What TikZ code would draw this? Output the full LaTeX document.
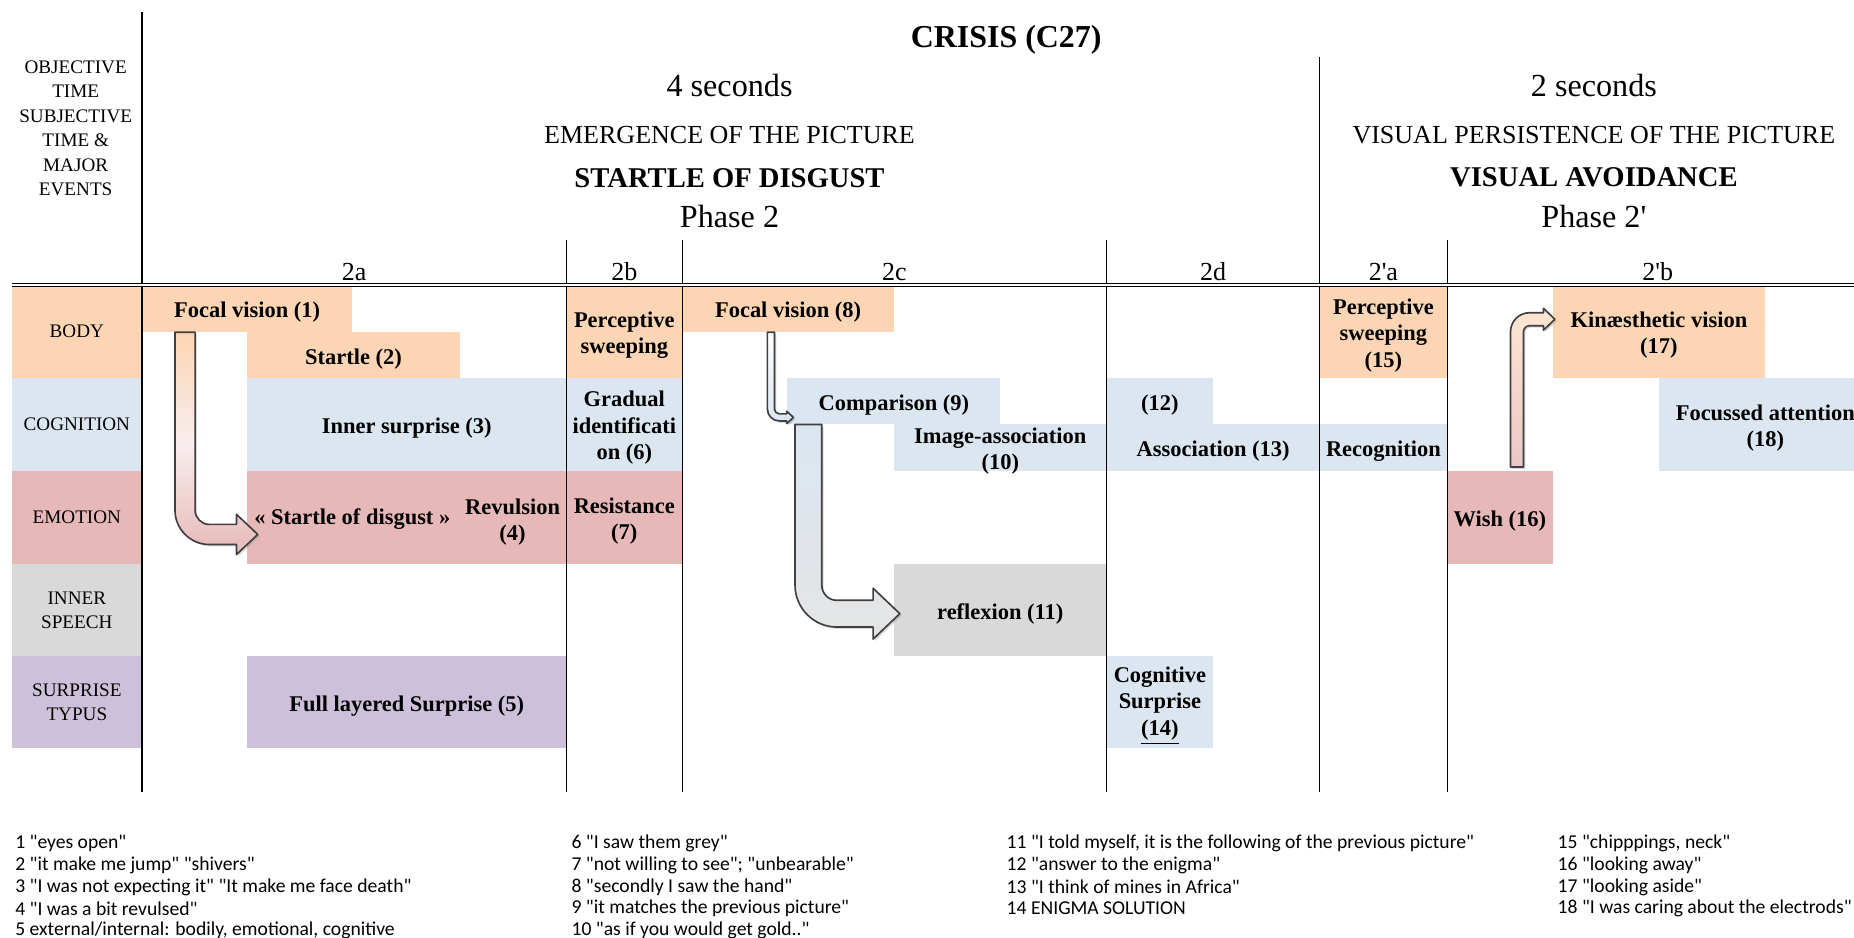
\documentclass[tikz,border=0pt]{standalone}
\usepackage{fontspec}
\defaultfontfeatures[\rmfamily]{}
\setmainfont{Liberation Serif}
\newfontfamily\legendfont{Carlito}
\usetikzlibrary{calc,shadows}

\definecolor{peach}{HTML}{FCD5B4}
\definecolor{cogblue}{HTML}{DCE6F1}
\definecolor{emopink}{HTML}{E6B9B8}
\definecolor{speechgrey}{HTML}{D9D9D9}
\definecolor{typuslilac}{HTML}{CCC0DA}
\definecolor{arrowline}{HTML}{404040}

\tikzset{
  cellwh/.style 2 args={minimum width=0.5pt*#1,minimum height=0.5pt*#2},
  celltext/.style={inner sep=0pt,align=center,yshift=-1.5pt,font=\bfseries\fontsize{9.5}{11.2}\selectfont},
  cell/.style={inner sep=0pt,outer sep=0pt,label={[celltext]center:{#1}}},
  bodycell/.style={cell={#1},fill=peach},
  cogcell/.style={cell={#1},fill=cogblue},
  emocell/.style={cell={#1},fill=emopink},
  speechcell/.style={cell={#1},fill=speechgrey},
  typuscell/.style={cell={#1},fill=typuslilac},
  rowlabel/.style={inner sep=0pt,outer sep=0pt,align=center,font=\fontsize{8.1}{10.3}\selectfont},
  phaseline/.style={line width=0.6pt},
  colhead/.style={inner sep=0pt,font=\fontsize{11}{13}\selectfont},
  bigtext/.style={inner sep=0pt,font=\fontsize{13.6}{16}\selectfont},
  midtext/.style={inner sep=0pt,font=\fontsize{11}{13}\selectfont},
  boldhead/.style={inner sep=0pt,font=\bfseries\fontsize{12.1}{14}\selectfont},
  legend/.style={anchor=west,inner sep=0pt,font=\legendfont\fontsize{8.3}{10}\selectfont},
  blockarrow/.style={draw=arrowline,line width=0.7pt,line join=round,
    drop shadow={opacity=0.3,shadow xshift=0.8pt,shadow yshift=-0.8pt}}
}

\newcommand{\bentarrow}[8]{%
  \path[blockarrow,#1] let \p1=#2, \p2=#3 in
    (\x1-#5pt,\y1) -- (\x1+#5pt,\y1)
    -- (\x1+#5pt,{\y2+(#4)*(#5pt+#8pt)})
    .. controls (\x1+#5pt,{\y2+(#4)*(#5pt+0.45*#8pt)}) and ({\x1+#5pt+0.45*#8pt},{\y2+(#4)*#5pt}) .. ({\x1+#5pt+#8pt},{\y2+(#4)*#5pt})
    -- (\x2-#7pt,{\y2+(#4)*#5pt}) -- (\x2-#7pt,{\y2+(#4)*#6pt}) -- (\x2,\y2)
    -- (\x2-#7pt,{\y2-(#4)*#6pt}) -- (\x2-#7pt,{\y2-(#4)*#5pt})
    -- ({\x1+#5pt+#8pt},{\y2-(#4)*#5pt})
    .. controls ({\x1-#5pt+0.45*(#8pt+2*#5pt)},{\y2-(#4)*#5pt}) and (\x1-#5pt,{\y2-(#4)*#5pt+(#4)*0.45*(#8pt+2*#5pt)}) .. (\x1-#5pt,{\y2-(#4)*#5pt+(#4)*(#8pt+2*#5pt)})
    -- cycle;}

\begin{document}
\begin{tikzpicture}[x=0.5pt,y=-0.5pt]
\useasboundingbox (0,0) rectangle (1568,793);
\clip (0,0) rectangle (1568,793);

\node[font=\bfseries\fontsize{13.5}{16}\selectfont,inner sep=0pt] (crisis) at (851,34) {CRISIS (C27)};
\node[rowlabel] (events) at (64,108.5) {OBJECTIVE\\TIME\\SUBJECTIVE\\TIME \&\\MAJOR\\EVENTS};
\node[bigtext] (sec4) at (617,72.5) {4 seconds};
\node[midtext] (emerge) at (617,114.2) {EMERGENCE OF THE PICTURE};
\node[boldhead] (startle) at (617,150.3) {STARTLE OF DISGUST};
\node[bigtext] (ph2) at (617,183.3) {Phase 2};
\node[bigtext] (sec2) at (1348,72.5) {2 seconds};
\node[midtext] (persist) at (1348,114.2) {VISUAL PERSISTENCE OF THE PICTURE};
\node[boldhead] (avoid) at (1348,150.3) {VISUAL AVOIDANCE};
\node[bigtext] (ph2p) at (1348,183.3) {Phase 2'};
\foreach \x/\lab/\nm in {299.5/2a/ca,528/2b/cb,756.5/2c/cc,1026/2d/cd,1170/2'a/cpa,1402/2'b/cpb}
{\node[colhead] (\nm) at (\x,229.8) {\lab};}

\node[rowlabel,fill=peach,cellwh={110}{79}] (lbody) at (65,280.5) {BODY};
\node[rowlabel,fill=cogblue,cellwh={110}{78}] (lcog) at (65,359) {COGNITION};
\node[rowlabel,fill=emopink,cellwh={110}{79}] (lemo) at (65,437.5) {EMOTION};
\node[rowlabel,fill=speechgrey,cellwh={110}{78}] (lspeech) at (65,516) {INNER\\SPEECH};
\node[rowlabel,fill=typuslilac,cellwh={110}{78}] (ltypus) at (65,594) {SURPRISE\\TYPUS};

\node[bodycell={Focal vision (1)},cellwh={178}{40}] (fv1) at (209,261) {};
\node[bodycell={Startle (2)},cellwh={180}{39}] (st2) at (299,300.5) {};
\node[bodycell={Perceptive\\sweeping},cellwh={98}{79}] (ps) at (528,280.5) {};
\node[bodycell={Focal vision (8)},cellwh={179}{40}] (fv8) at (666.5,261) {};
\node[bodycell={Perceptive\\sweeping\\(15)},cellwh={108}{79}] (ps15) at (1170,280.5) {};
\node[bodycell={Kinæsthetic vision\\(17)},cellwh={180}{79}] (kin17) at (1403,280.5) {};

\node[cogcell={Inner surprise (3)},cellwh={270}{78}] (is3) at (344,359) {};
\node[cogcell={Gradual\\identificati\\on (6)},cellwh={98}{78}] (gi6) at (528,359) {};
\node[cogcell={Comparison (9)},cellwh={180}{39}] (cmp9) at (756,339.5) {};
\node[cogcell={Image-association\\(10)},cellwh={180}{39}] (ia10) at (846,378.5) {};
\node[cogcell={(12)},cellwh={90}{39}] (q12) at (981,339.5) {};
\node[cogcell={Association (13)},cellwh={180}{39}] (as13) at (1026,378.5) {};
\node[cogcell={Recognition},cellwh={108}{39}] (rec) at (1170,378.5) {};
\node[cogcell={Focussed attention\\(18)},cellwh={180}{78}] (fa18) at (1493,359) {};

\node[emocell={},cellwh={270}{79}] (sd4) at (344,437.5) {};
\node[celltext] (sdtext) at (298,436) {« Startle of disgust »};
\node[celltext] (rev4) at (433.5,438.5) {Revulsion\\(4)};
\node[emocell={Resistance\\(7)},cellwh={98}{79}] (res7) at (528,437.5) {};
\node[emocell={Wish (16)},cellwh={89}{79}] (wish16) at (1268.5,437.5) {};

\node[speechcell={reflexion (11)},cellwh={180}{78}] (refl11) at (846,516) {};

\node[typuscell={Full layered Surprise (5)},cellwh={270}{78}] (fls5) at (344,594) {};
\node[cogcell={Cognitive\\Surprise\\\underline{(14)}},cellwh={90}{78}] (cs14) at (981,594) {};

\draw[phaseline] (120,10) -- (120,670);
\draw[phaseline] (1116,48) -- (1116,670);
\foreach \x in {479,577,936,1224}
{\draw[phaseline] (\x,203) -- (\x,670);}
\draw[double,double distance=0.6pt,line width=0.5pt] (10,241) -- (1568,241);

\bentarrow{top color=peach,bottom color=emopink,middle color=emopink!25}{($(fv1.south west)+(36.5,0)$)}{($(sd4.west)+(9,14.5)$)}{1}{4.25}{8.5}{9}{6}
\bentarrow{top color=white,bottom color=cogblue}{($(fv8.south west)+(75,0)$)}{($(cmp9.west)+(5,13.5)$)}{1}{1.5}{2.6}{2.8}{2}
\bentarrow{top color=cogblue,bottom color=speechgrey!70}{($(cmp9.south west)+(17.7,0)$)}{($(refl11.west)+(5,3)$)}{1}{5.65}{10.75}{11.3}{6.35}
\bentarrow{top color=peach!60,bottom color=emopink!80}{($(wish16.north west)+(59,-3)$)}{($(kin17.west)+(2,-10.5)$)}{-1}{2.75}{4.6}{4.8}{2.5}

\foreach \t [count=\i] in {{1 "eyes open"},{2 "it make me jump" "shivers"},{3 "I was not expecting it" "It make me face death"},{4 "I was a bit revulsed"},{5 external/internal: bodily, emotional, cognitive}}
{\node[legend] (la\i) at (12.5,{695.2+18.3*\i}) {\t};}
\foreach \t [count=\i] in {{6 "I saw them grey"},{7 "not willing to see"; "unbearable"},{8 "secondly I saw the hand"},{9 "it matches the previous picture"},{10 "as if you would get gold.."}}
{\node[legend] (lb\i) at (483,{695.2+18.3*\i}) {\t};}
\foreach \t [count=\i] in {{11 "I told myself, it is the following of the previous picture"},{12 "answer to the enigma"},{13 "I think of mines in Africa"},{14 ENIGMA SOLUTION}}
{\node[legend] (lc\i) at (851,{695.2+18.3*\i}) {\t};}
\foreach \t [count=\i] in {{15 "chipppings, neck"},{16 "looking away"},{17 "looking aside"},{18 "I was caring about the electrods"}}
{\node[legend] (ld\i) at (1317,{695.2+18.3*\i}) {\t};}
\end{tikzpicture}
\end{document}
